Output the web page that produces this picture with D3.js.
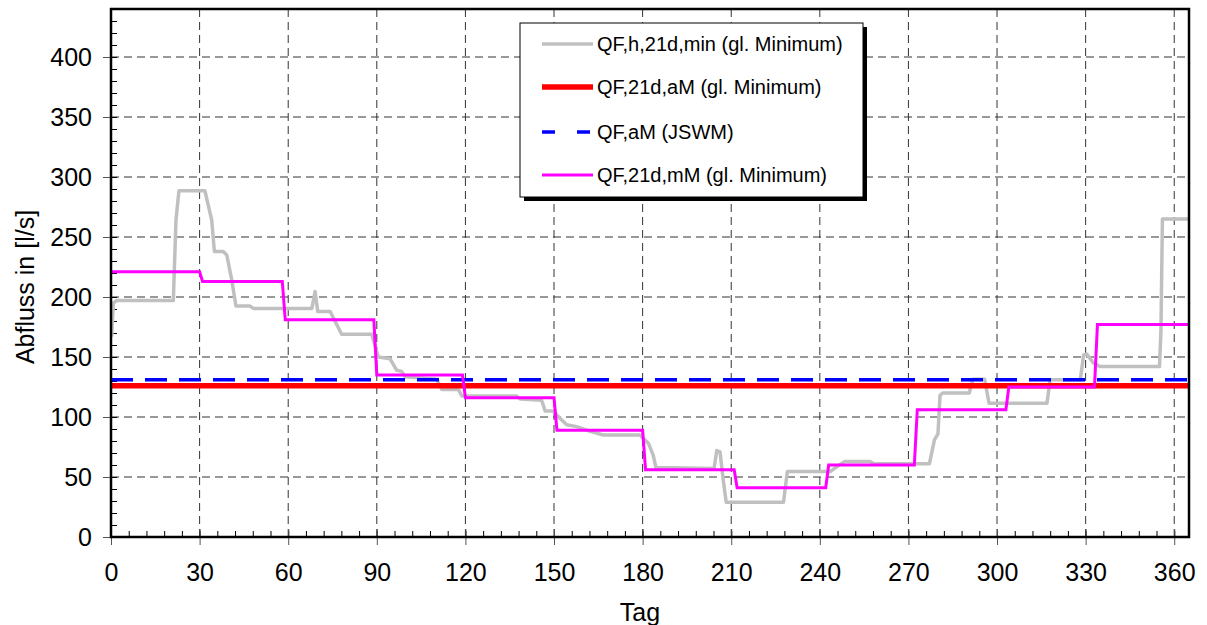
<!DOCTYPE html>
<html>
<head>
<meta charset="utf-8">
<script src="https://cdn.jsdelivr.net/npm/d3@7"></script>
<style>
  body { margin: 0; background: #fff; }
  svg { font-family: "Liberation Sans", Arial, sans-serif; }
</style>
</head>
<body>
<svg id="chart" width="1207" height="625"></svg>
<script>
(() => {
    // QF,h,21d,min (gl. Minimum)
    const minDay = [0.2, 0.8, 1.9, 21.1, 22, 23, 31.8, 34.1, 35, 38, 39.2, 40.9, 42.3, 47, 48.2, 68, 69.1, 70,
        74.2, 75.9, 78.1, 88.3, 90.5, 94.5, 96.7, 98.4, 99.6, 110.3, 112, 117.6, 118.8, 137.4, 138.5, 145.8,
        147, 149.7, 152, 154.3, 157.7, 162.2, 166.7, 179.1, 182, 183.6, 184.5, 204.2, 205.1, 206.2, 207.3,
        208.3, 227.7, 229, 243.5, 245.7, 248.5, 257, 258.2, 277.1, 278.8, 280, 280.7, 281.6, 290.6, 291.8,
        295.8, 297.3, 316.9, 318, 328.2, 329.3, 330.4, 332.6, 334.9, 355, 355.5, 356, 365];
    const minQ = [167, 195, 197, 197, 264, 288.5, 288.5, 264, 238, 238, 235, 214, 192.5, 192.5, 190.5, 190.5, 204.5, 188,
        188, 179.5, 169, 169, 150, 148.5, 139, 138, 133.5, 131.5, 123, 123, 117.5, 117.5, 115, 114,
        105, 105, 99, 93.5, 92, 88, 85, 85, 78, 68, 58, 57, 72, 71, 47.5,
        29, 29, 54.5, 54.5, 58.5, 63, 63, 61, 61, 81, 86, 118, 120, 120, 131.5,
        131.5, 111.5, 111.5, 131, 131, 151.5, 152.5, 145, 142, 142, 172, 265, 265];

    // QF,21d,mM (gl. Minimum) - monthly values
    const monthStart = [0, 31, 59, 90, 120, 151, 181, 212, 243, 273, 304, 334];
    const monthQ = [221, 213, 181, 135, 116, 89, 56, 41, 60, 106, 125, 177];

    // constant lines
    const qAM = 126;     // QF,21d,aM (gl. Minimum)
    const qJSWM = 131;   // QF,aM (JSWM)

    const xTicks = [0, 30, 60, 90, 120, 150, 180, 210, 240, 270, 300, 330, 360];
    const yTicks = [0, 50, 100, 150, 200, 250, 300, 350, 400];
    const legendLabels = ["QF,h,21d,min (gl. Minimum)", "QF,21d,aM (gl. Minimum)", "QF,aM (JSWM)", "QF,21d,mM (gl. Minimum)"];

    const svg = d3.select("#chart");
    const margin = { left: 111, top: 9, right: 18, bottom: 88 };
    const width = 1207 - margin.left - margin.right,
        height = 625 - margin.top - margin.bottom;

    const g = svg.append("g").attr("transform", `translate(${margin.left},${margin.top})`);

    const x = d3.scaleLinear().domain([0, 365]).range([0, width]);
    const y = d3.scaleLinear().domain([0, 440]).range([height, 0]);

    // grid
    g.append("g").selectAll("line").data(yTicks.filter(d => d > 0)).join("line")
        .attr("x1", 0).attr("x2", width)
        .attr("y1", d => y(d)).attr("y2", d => y(d))
        .attr("stroke", "#333").attr("stroke-dasharray", "8,5");
    g.append("g").selectAll("line").data(xTicks.filter(d => d > 0)).join("line")
        .attr("x1", d => x(d)).attr("x2", d => x(d))
        .attr("y1", 0).attr("y2", height)
        .attr("stroke", "#333").attr("stroke-dasharray", "8,5");

    // minor ticks (inside)
    const minorY = d3.range(0, 441, 10);
    const minorX = d3.range(0, 366, 6);
    g.append("g").call(d3.axisRight(y).tickValues(minorY).tickSize(6).tickFormat(""))
        .call(a => a.select(".domain").remove());
    g.append("g").attr("transform", `translate(0,${height})`)
        .call(d3.axisTop(x).tickValues(minorX).tickSize(6).tickFormat(""))
        .call(a => a.select(".domain").remove());

    // major axes
    const yAxis = g.append("g").call(d3.axisLeft(y).tickValues(yTicks).tickSize(8).tickPadding(11));
    yAxis.select(".domain").remove();
    yAxis.selectAll("text").attr("font-size", 25).attr("fill", "#000");
    yAxis.selectAll("line").attr("stroke", "#555");

    const xAxis = g.append("g").attr("transform", `translate(0,${height})`)
        .call(d3.axisBottom(x).tickValues(xTicks).tickSize(8).tickPadding(18));
    xAxis.select(".domain").remove();
    xAxis.selectAll("text").attr("font-size", 25).attr("fill", "#000");
    xAxis.selectAll("line").attr("stroke", "#555").attr("y1", -8);

    // data lines
    const line = d3.line().x(d => x(d[0])).y(d => y(d[1]));

    g.append("path").datum(minDay.map((d, i) => [d, minQ[i]]))
        .attr("d", line).attr("fill", "none")
        .attr("stroke", "#c0c0c0").attr("stroke-width", 3.5).attr("stroke-linejoin", "round");

    g.append("path").datum([[0, qAM], [365, qAM]])
        .attr("d", line).attr("fill", "none")
        .attr("stroke", "#ff0000").attr("stroke-width", 5.5);

    g.append("path").datum([[0, qJSWM], [365, qJSWM]])
        .attr("d", line).attr("fill", "none")
        .attr("stroke", "#0000ff").attr("stroke-width", 3.5).attr("stroke-dasharray", "22,12");

    const stepPts = [];
    monthStart.forEach((s, i) => {
        const end = i < monthStart.length - 1 ? monthStart[i + 1] - 1 : 365;
        stepPts.push([s, monthQ[i]], [end, monthQ[i]]);
    });
    g.append("path").datum(stepPts)
        .attr("d", line).attr("fill", "none")
        .attr("stroke", "#ff00ff").attr("stroke-width", 3);

    // frame
    g.append("rect").attr("width", width).attr("height", height)
        .attr("fill", "none").attr("stroke", "#000").attr("stroke-width", 2.5);

    // axis titles
    svg.append("text").attr("x", 640).attr("y", 621)
        .attr("text-anchor", "middle").attr("font-size", 25).text("Tag");
    svg.append("text").attr("transform", "translate(34,287) rotate(-90)")
        .attr("text-anchor", "middle").attr("font-size", 25).text("Abfluss in [l/s]");

    // legend
    const lg = svg.append("g").attr("transform", "translate(520,23)");
    lg.append("rect").attr("x", 4).attr("y", 4).attr("width", 343).attr("height", 174).attr("fill", "#000");
    lg.append("rect").attr("width", 343).attr("height", 174).attr("fill", "#fff")
        .attr("stroke", "#000").attr("stroke-width", 1);
    const styles = [
        { c: "#c0c0c0", w: 3.5, dash: null },
        { c: "#ff0000", w: 5.5, dash: null },
        { c: "#0000ff", w: 3.5, dash: "13,22" },
        { c: "#ff00ff", w: 3, dash: null }
    ];
    const rows = [21, 64, 109, 152];
    legendLabels.forEach((lab, i) => {
        lg.append("line").attr("x1", 22).attr("x2", 73).attr("y1", rows[i]).attr("y2", rows[i])
            .attr("stroke", styles[i].c).attr("stroke-width", styles[i].w)
            .attr("stroke-dasharray", styles[i].dash);
        lg.append("text").attr("x", 77).attr("y", rows[i]).attr("dy", "0.35em")
            .attr("font-size", 20).text(lab);
    });
})();
</script>
</body>
</html>
